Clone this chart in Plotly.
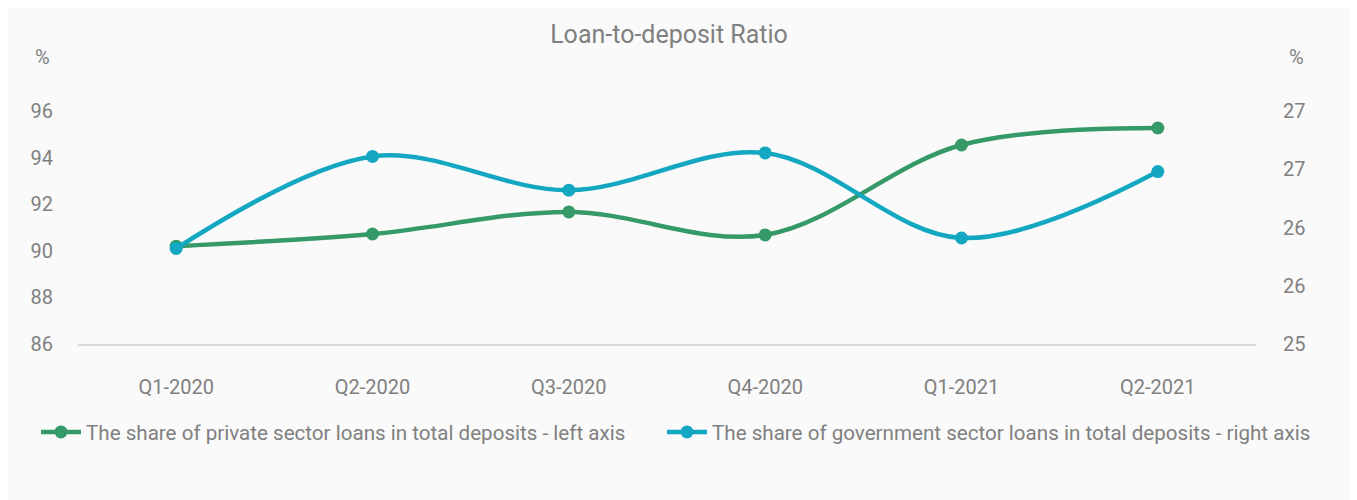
import plotly.graph_objects as go

categories = ["Q1-2020", "Q2-2020", "Q3-2020", "Q4-2020", "Q1-2021", "Q2-2021"]
private_share = [90.2, 90.72, 91.67, 90.68, 94.54, 95.27]
government_share = [25.82, 26.61, 26.32, 26.64, 25.91, 26.48]

left_ticks = [86, 88, 90, 92, 94, 96]
right_tickvals = [25, 25.5, 26, 26.5, 27]
right_ticktext = ["25", "26", "26", "27", "27"]

GREEN = "#359a67"
BLUE = "#13a7c1"
GRAY = "#808080"
FONT = "Roboto"

# page offset (body margin) compensation: figure px = screen px - 8
OFF = 8
W, H = 1357 - OFF, 500 - OFF
L, R, T, B = 78 - OFF, 1256 - OFF, 111 - OFF, 344 - OFF
PW, PH = R - L, B - T

def px(xs):
    return (xs - OFF - L) / PW

def py(ys):
    return (B - (ys - OFF)) / PH

fig = go.Figure()
fig.add_trace(go.Scatter(
    x=categories, y=private_share, name="The share of private sector loans in total deposits - left axis",
    mode="lines+markers", line=dict(color=GREEN, width=4.5, shape="spline", smoothing=1.0),
    marker=dict(size=13, color=GREEN), cliponaxis=False, yaxis="y", legend="legend"))
fig.add_trace(go.Scatter(
    x=categories, y=government_share, name="The share of government sector loans in total deposits - right axis",
    mode="lines+markers", line=dict(color=BLUE, width=4.5, shape="spline", smoothing=1.0),
    marker=dict(size=13, color=BLUE), cliponaxis=False, yaxis="y2", legend="legend2"))

legend_common = dict(orientation="h", xanchor="left", yanchor="middle",
                     font=dict(size=20.6, color=GRAY), bgcolor="rgba(0,0,0,0)", itemwidth=40)

fig.update_layout(
    width=W, height=H,
    margin=dict(l=L, r=W - R, t=T, b=H - B),
    paper_bgcolor="#fafafa", plot_bgcolor="rgba(0,0,0,0)",
    font=dict(family=FONT, color=GRAY, size=20),
    title=dict(text="Loan-to-deposit Ratio", x=(669 - OFF) / W, xanchor="center",
               y=1 - (34 - OFF) / H, yanchor="middle", font=dict(size=25, color=GRAY)),
    xaxis=dict(range=[-0.5, 5.5], showgrid=False, showline=True, linecolor="#d9d9d9",
               linewidth=2, ticks="", ticklabelstandoff=24, tickfont=dict(size=20, color=GRAY),
               zeroline=False),
    yaxis=dict(range=[86, 96], tickvals=left_ticks, showgrid=False, zeroline=False,
               ticklabelstandoff=24, tickfont=dict(size=20, color=GRAY)),
    yaxis2=dict(range=[25, 27], tickvals=right_tickvals, ticktext=right_ticktext,
                overlaying="y", side="right", showgrid=False, zeroline=False,
                ticklabelstandoff=26, tickfont=dict(size=20, color=GRAY)),
    legend=dict(x=px(36), y=py(432), **legend_common),
    legend2=dict(x=px(662), y=py(432), **legend_common),
    showlegend=True,
    annotations=[
        dict(text="%", xref="paper", yref="paper", x=px(42), y=py(57),
             showarrow=False, xanchor="center", yanchor="middle", font=dict(size=20, color=GRAY)),
        dict(text="%", xref="paper", yref="paper", x=px(1296), y=py(57),
             showarrow=False, xanchor="center", yanchor="middle", font=dict(size=20, color=GRAY)),
    ],
)

fig.write_html("out.html")
